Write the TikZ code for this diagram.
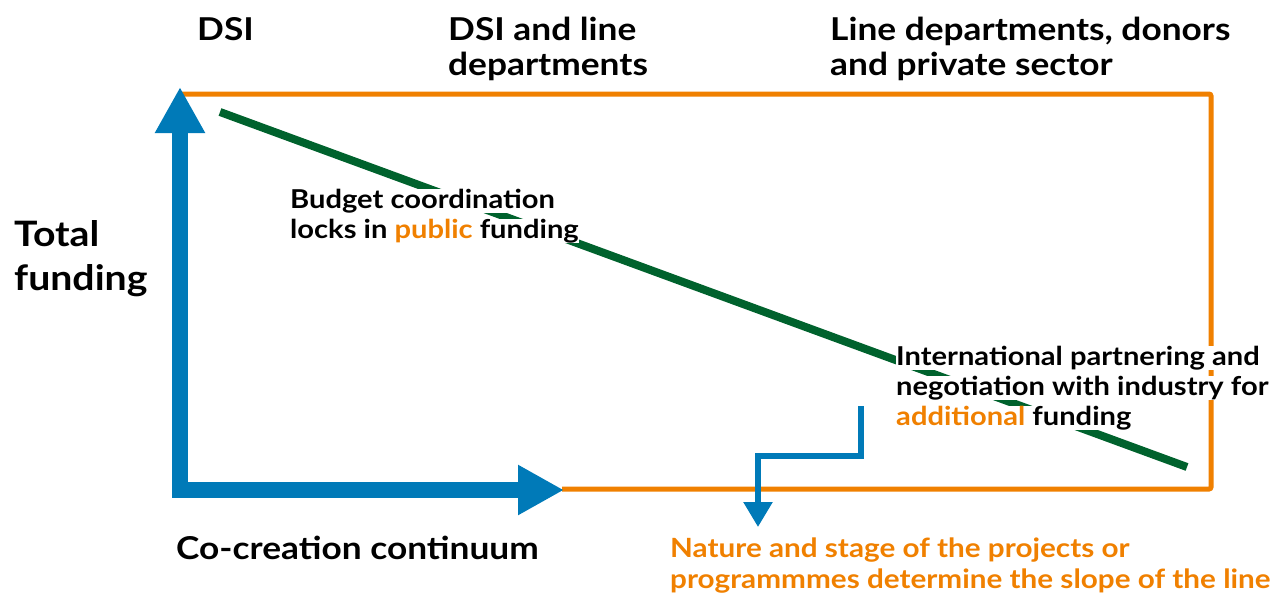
\documentclass[tikz,border=0pt]{standalone}
\usepackage{fontspec}
\setmainfont{Lato}[FakeStretch=1.12]
\usetikzlibrary{arrows.meta}
\definecolor{dorange}{RGB}{240,128,0}
\definecolor{dblue}{RGB}{0,122,184}
\definecolor{dgreen}{RGB}{0,98,45}
\tikzset{
  lbl/.style={anchor=base west, inner sep=0pt, font=\bfseries\fontsize{#1}{#1}\selectfont},
  wlbl/.style={lbl=#1, fill=white},
  frame/.style={draw=dorange, line width=5pt, rounded corners=2pt},
  axis/.style={draw=dblue, line width=16pt, line join=miter,
    {Triangle[width=47pt,length=46pt]}-{Triangle[width=47pt,length=46pt]}},
  slope/.style={draw=dgreen, line width=8pt},
  stepline/.style={draw=dblue, line width=5.5pt, -{Triangle[width=28pt,length=25pt]}}
}
\begin{document}
\begin{tikzpicture}[x=1pt,y=-1pt]
\useasboundingbox (0,0) rectangle (1274,595);
% frame
\coordinate (ftl) at (181,94);
\coordinate (fbl) at (562,489);
\draw[frame] (ftl) -- (1211,94) -- (1211,489) -- (fbl);
% green slope
\coordinate (gs) at (220,112);
\coordinate (ge) at (1187,467);
\draw[slope] (gs) -- (ge);
% axes
\coordinate (ytop) at (180,87);
\coordinate (orig) at (180,490);
\coordinate (xend) at (564,490);
\draw[axis] (ytop) -- (orig) -- (xend);
% headings
\node[lbl=31.5] (h1) at (197,40) {DSI};
\node[lbl=31.5] (h2a) at (448,40) {DSI and line};
\node[lbl=31.5] (h2b) at (448,75) {departments};
\node[lbl=31.5] (h3a) at (830,40) {Line departments, donors};
\node[lbl=31.5] (h3b) at (830,75) {and private sector};
\node[lbl=35] (ya) at (14,246) {Total};
\node[lbl=35] (yb) at (14,290) {funding};
\node[lbl=31.5] (xl) at (176,559) {Co-creation continuum};
% inner texts
\node[wlbl=26] (b1) at (290,208) {Budget coordination};
\node[wlbl=26] (b2) at (290,238) {locks in \textcolor{dorange}{public} funding};
\node[wlbl=26] (i1) at (896,365) {International partnering and};
\node[wlbl=26] (i2) at (896,395) {negotiation with industry for};
\node[wlbl=26] (i3) at (896,425) {\textcolor{dorange}{additional} funding};
\node[lbl=26.5, text=dorange] (n1) at (670,557) {Nature and stage of the projects or};
\node[lbl=26.5, text=dorange] (n2) at (670,588) {programmmes determine the slope of the line};
% step connector
\coordinate (ss) at (861,406);
\coordinate (sm) at (758,456);
\coordinate (st) at (758,527);
\draw[stepline] (ss) |- (sm) -- (st);
\end{tikzpicture}
\end{document}
